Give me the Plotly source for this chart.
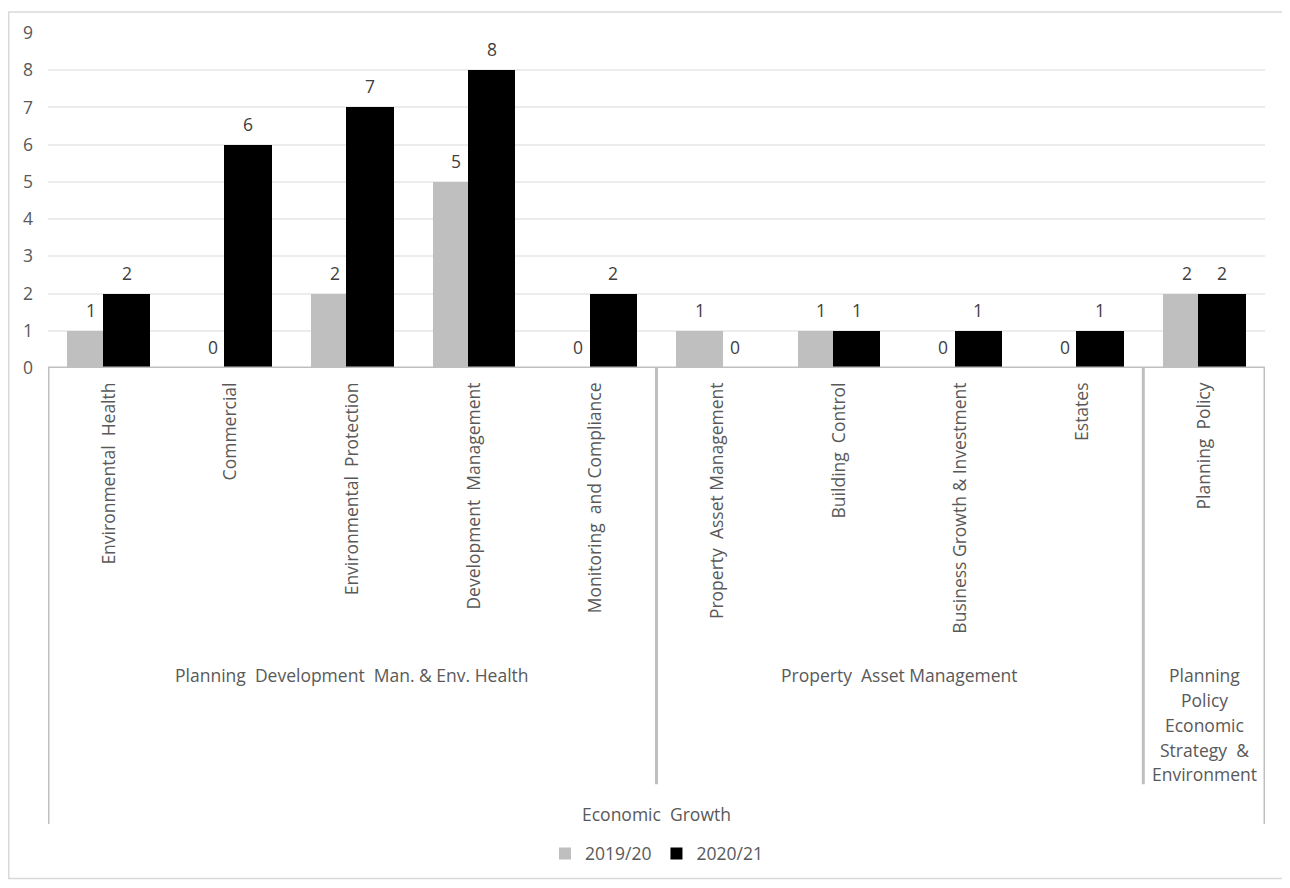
import plotly.graph_objects as go

# ---- data ----
categories = ["Environmental  Health", "Commercial", "Environmental  Protection",
              "Development  Management", "Monitoring  and Compliance",
              "Property  Asset Management", "Building  Control",
              "Business Growth & Investment", "Estates", "Planning  Policy"]
values_1920 = [1, 0, 2, 5, 0, 1, 1, 0, 0, 2]
values_2021 = [2, 6, 7, 8, 2, 0, 1, 1, 1, 2]
series_names = ["2019/20", "2020/21"]
group_labels = ["Planning  Development  Man. & Env. Health",
                "Property  Asset Management",
                "Planning<br>Policy<br>Economic<br>Strategy  &<br>Environment"]
group_sizes = [5, 4, 1]
top_label = "Economic  Growth"
y_ticks = list(range(0, 10))

# ---- style ----
FONT = "Open Sans"
FS = 17.5
TXT = "#595959"
LINE = "#bfbfbf"
W = 0.39
OFF = [-0.34, -0.05]
colors = ["#bfbfbf", "#000000"]

# page body has 8px margin -> figure placed at (8, 8)
FIG_W, FIG_H = 1282, 880
ML, MR, MT, MB = 40, 25, 22, 520
H_PLOT = float(FIG_H - MT - MB)
W_PLOT = float(FIG_W - ML - MR)

def py(px):  # pixels below the axis -> paper coordinate
    return -px / H_PLOT

fig = go.Figure()
for name, vals, off, col in zip(series_names, [values_1920, values_2021], OFF, colors):
    fig.add_trace(go.Bar(x=categories, y=vals, name=name, width=W, offset=off,
                         marker=dict(color=col, line=dict(width=0))))

annotations = []
# data labels
for vals, off in zip([values_1920, values_2021], OFF):
    for i, v in enumerate(vals):
        annotations.append(dict(x=i + off + W / 2, y=v, xref="x", yref="y",
                                text=str(v), showarrow=False, yanchor="middle",
                                yshift=21, font=dict(family=FONT, size=FS, color="#404040")))

shapes = []
# group labels and divider lines
start = 0
bounds = [-0.5]
for lab, n in zip(group_labels, group_sizes):
    center = start + (n - 1) / 2
    for k, line_txt in enumerate(lab.split("<br>")):
        annotations.append(dict(x=center, y=py(310 + 25 * k), xref="x", yref="paper",
                                text=line_txt, showarrow=False, yanchor="middle",
                                align="center",
                                font=dict(family=FONT, size=FS, color=TXT)))
    start += n
    bounds.append(start - 0.5)
for j, b in enumerate(bounds):
    outer = j == 0 or j == len(bounds) - 1
    shapes.append(dict(type="line", xref="x", yref="paper", x0=b, x1=b,
                       y0=0, y1=py(460 if outer else 420),
                       line=dict(color=LINE, width=3)))
annotations.append(dict(x=(bounds[0] + bounds[-1]) / 2, y=py(450), xref="x", yref="paper",
                        text=top_label, showarrow=False, yanchor="middle",
                        font=dict(family=FONT, size=FS, color=TXT)))
# baseline
shapes.append(dict(type="line", xref="x", yref="y", x0=bounds[0], x1=bounds[-1], y0=0, y1=0,
                   line=dict(color=LINE, width=3)))
# outer chart border
shapes.append(dict(type="rect", xref="paper", yref="paper",
                   x0=(0.75 - ML) / W_PLOT, x1=1 + 20 / W_PLOT,
                   y0=py(515), y1=1 + (MT - 0.75) / H_PLOT,
                   line=dict(color="#d9d9d9", width=1.5)))

fig.update_layout(
    width=FIG_W, height=FIG_H,
    margin=dict(l=ML, r=MR, t=MT, b=MB),
    paper_bgcolor="white", plot_bgcolor="white",
    barmode="overlay", bargap=0,
    showlegend=True,
    legend=dict(orientation="h", x=0.5, xanchor="center", y=py(490), yanchor="middle",
                font=dict(family=FONT, size=FS, color=TXT), itemwidth=30,
                traceorder="normal"),
    annotations=annotations, shapes=shapes,
    font=dict(family=FONT, size=FS, color=TXT),
)
fig.update_xaxes(type="category", categoryorder="array", categoryarray=categories,
                 range=[-0.5, len(categories) - 0.5],
                 tickangle=-90, showgrid=False, showline=False, zeroline=False,
                 ticks="", ticklabelstandoff=10,
                 tickfont=dict(family=FONT, size=FS, color=TXT))
fig.update_yaxes(range=[0, 9], tickvals=y_ticks, showgrid=True, gridcolor="#ececec",
                 gridwidth=1.5, zeroline=False, showline=False, ticks="",
                 ticklabelstandoff=14, tickfont=dict(family=FONT, size=FS, color=TXT))

fig.write_html("out.html")
